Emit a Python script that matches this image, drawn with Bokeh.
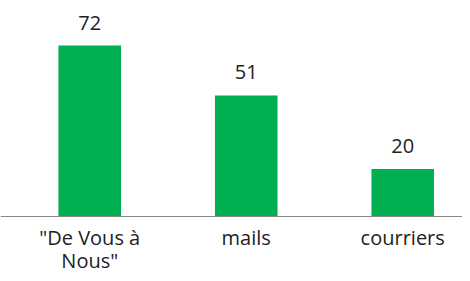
from bokeh.plotting import figure
from bokeh.models import Range1d, ColumnDataSource, Span
from bokeh.core.properties import value
from bokeh.embed import file_html
from bokeh.resources import INLINE

categories = ['"De Vous à\nNous"', "mails", "courriers"]
values = [72, 51, 20]
labels = ["72", "51", "20"]

xs = list(range(len(categories)))
src = ColumnDataSource(dict(x=xs, top=values, lab=labels))

# split wrapped category labels into separate lines
lx, ly, lt, loff = [], [], [], []
for i, c in enumerate(categories):
    for j, line in enumerate(c.split("\n")):
        lx.append(i)
        ly.append(0)
        lt.append(line)
        loff.append(21 + 23 * j)
cat_src = ColumnDataSource(dict(x=lx, y=ly, t=lt, off=loff))

p = figure(width=462, height=273, output_backend="svg", toolbar_location=None,
           x_range=Range1d(-0.5703, 2.382), y_range=Range1d(-24.0, 90.95),
           min_border_left=0, min_border_right=0, min_border_top=0,
           min_border_bottom=0)
p.outline_line_color = None
p.xgrid.visible = False
p.ygrid.visible = False
p.xaxis.visible = False
p.yaxis.visible = False
p.background_fill_color = "white"
p.border_fill_color = "white"

p.vbar(x="x", top="top", width=0.4, bottom=0, source=src,
       fill_color="#00B050", line_color=None)
p.add_layout(Span(location=0, dimension="width", line_color="#868686",
                  line_width=1))
p.text(x="x", y="top", text="lab", source=src, text_align="center",
       text_baseline="middle", y_offset=-23, text_font=value("Open Sans"),
       text_font_size="20px", text_color="#222222")
p.text(x="x", y="y", text="t", source=cat_src, text_align="center",
       text_baseline="middle", y_offset="off", text_font=value("Open Sans"),
       text_font_size="20px", text_color="#222222")

open("out.html", "w").write(file_html(p, INLINE))
